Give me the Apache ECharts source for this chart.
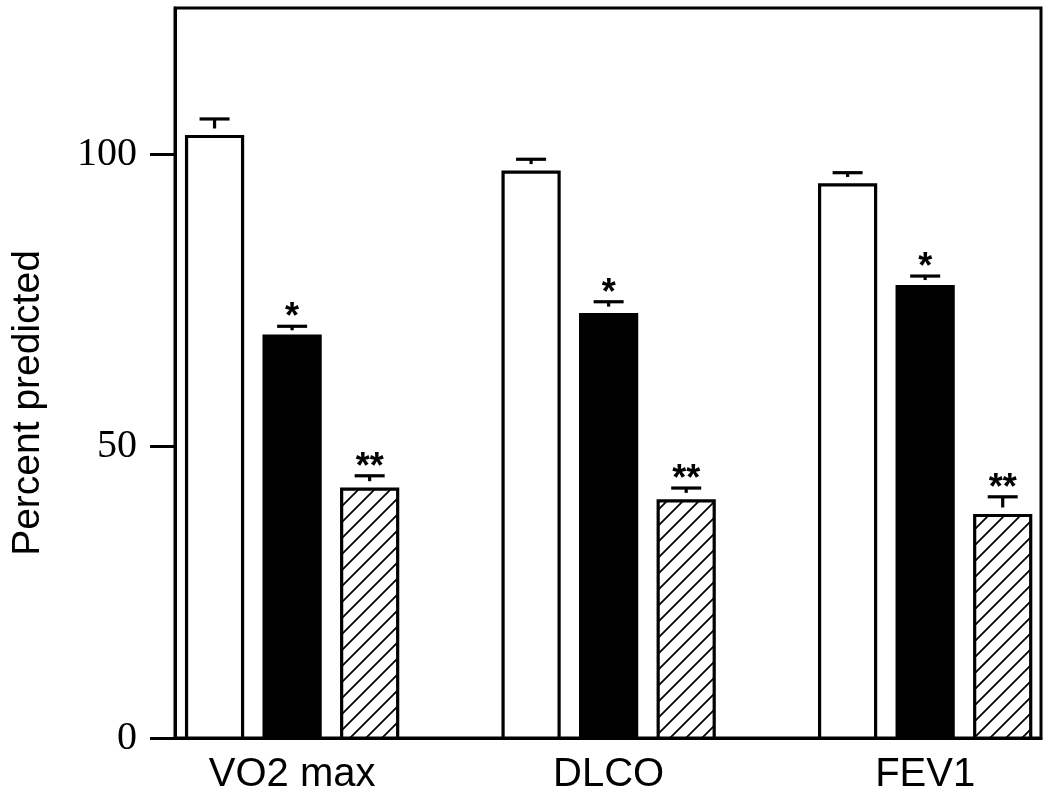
<!DOCTYPE html>
<html>
<head>
<meta charset="utf-8">
<script src="https://cdn.jsdelivr.net/npm/echarts@6/dist/echarts.min.js"></script>
<style>
html,body{margin:0;padding:0;background:#fff;}
#chart{width:1050px;height:802px;}
</style>
</head>
<body>
<div id="chart"></div>
<script>
// ---- data ----
const categories = ['VO2 max', 'DLCO', 'FEV1'];
const whiteValues = [103.0, 96.9, 94.7];
const whiteErrors = [3.0, 2.2, 2.1];
const blackValues = [68.8, 72.5, 77.3];
const blackErrors = [1.7, 2.2, 1.8];
const hatchValues = [42.6, 40.6, 38.1];
const hatchErrors = [2.3, 2.2, 3.2];
const whiteMarks = ['', '', ''];
const blackMarks = ['*', '*', '*'];
const hatchMarks = ['**', '**', '**'];
const yTicks = [0, 50, 100];
const xTicks = [0, 1, 2];
const yTitle = 'Percent predicted';

// ---- hatch pattern ----
function makeHatch() {
  const s = 16;
  const c = document.createElement('canvas');
  c.width = s; c.height = s;
  const ctx = c.getContext('2d');
  ctx.fillStyle = '#fff';
  ctx.fillRect(0, 0, s, s);
  ctx.strokeStyle = '#000';
  ctx.lineWidth = 1.8;
  ctx.beginPath();
  ctx.moveTo(0, s); ctx.lineTo(s, 0);
  ctx.moveTo(-s / 2, s / 2); ctx.lineTo(s / 2, -s / 2);
  ctx.moveTo(s / 2, s * 1.5); ctx.lineTo(s * 1.5, s / 2);
  ctx.stroke();
  return c;
}
const hatchPattern = { image: makeHatch(), repeat: 'repeat' };

const BAR_W = 0.177;   // in category units
const OFFS = [-0.245, 0, 0.245];

function makeSeries(values, errors, marks, k, fill) {
  return {
    type: 'custom',
    data: values.map((v, i) => [i, v, errors[i]]),
    renderItem: function (params, api) {
      const cat = api.value(0), v = api.value(1), e = api.value(2);
      const off = OFFS[k];
      const tl = api.coord([cat + off - BAR_W / 2, v]);
      const br = api.coord([cat + off + BAR_W / 2, 0]);
      const cap = api.coord([cat + off, v + e]);
      const stemEnd = Math.max(cap[1] + 4, tl[1] - 8);
      const children = [
        { type: 'rect', shape: { x: tl[0], y: tl[1], width: br[0] - tl[0], height: br[1] - tl[1] },
          style: { fill: fill, stroke: '#000', lineWidth: 3.2 } },
        { type: 'line', shape: { x1: cap[0] - 15, y1: cap[1], x2: cap[0] + 15, y2: cap[1] },
          style: { stroke: '#000', lineWidth: 3.2 } },
        { type: 'line', shape: { x1: cap[0], y1: cap[1], x2: cap[0], y2: stemEnd },
          style: { stroke: '#000', lineWidth: 3.2 } }
      ];
      const m = marks[params.dataIndex];
      if (m) {
        children.push({ type: 'text', style: {
          text: m, x: cap[0], y: cap[1] - 8, align: 'center', verticalAlign: 'middle',
          fontFamily: 'Liberation Sans', fontWeight: 'bold', fontSize: 36, fill: '#000' } });
      }
      return { type: 'group', children: children };
    },
    z: 3
  };
}

const chart = echarts.init(document.getElementById('chart'), null, { renderer: 'canvas' });
chart.setOption({
  backgroundColor: '#fff',
  animation: false,
  grid: { left: 175, right: 9, top: 8, bottom: 64, show: true, borderColor: '#000', borderWidth: 3, containLabel: false },
  xAxis: {
    type: 'value', min: -0.37, max: 2.366,
    axisLine: { show: true, onZero: false, lineStyle: { color: '#000', width: 3 } },
    axisTick: { show: false },
    splitLine: { show: false },
    axisLabel: {
      customValues: xTicks,
      formatter: v => categories[Math.round(v)] || '',
      fontFamily: 'Liberation Sans', fontSize: 40, color: '#000', margin: 17
    }
  },
  yAxis: {
    type: 'value', min: 0, max: 125,
    axisLine: { show: true, onZero: false, lineStyle: { color: '#000', width: 3 } },
    axisTick: { show: true, customValues: yTicks, length: 25, inside: false, lineStyle: { color: '#000', width: 3 } },
    splitLine: { show: false },
    axisLabel: {
      customValues: yTicks,
      fontFamily: 'Liberation Serif', fontSize: 40, color: '#000', margin: 38
    }
  },
  graphic: [{
    type: 'text', x: 28, y: 403, rotation: Math.PI / 2,
    style: { text: yTitle, fontFamily: 'Liberation Sans', fontSize: 39, fill: '#000', align: 'center', verticalAlign: 'middle' }
  }],
  series: [
    makeSeries(whiteValues, whiteErrors, whiteMarks, 0, '#fff'),
    makeSeries(blackValues, blackErrors, blackMarks, 1, '#000'),
    makeSeries(hatchValues, hatchErrors, hatchMarks, 2, hatchPattern)
  ]
});
</script>
</body>
</html>
